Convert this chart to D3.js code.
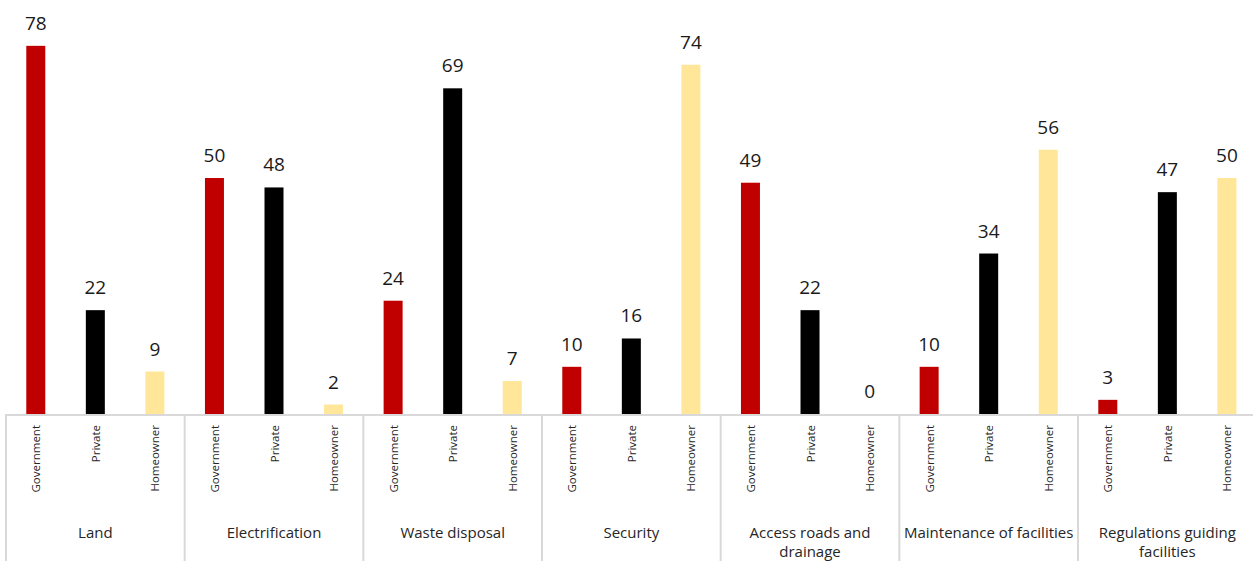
<!DOCTYPE html>
<html><head><meta charset="utf-8">
<script src="https://cdn.jsdelivr.net/npm/d3@7"></script>
<style>body{margin:0;background:#fff}svg{display:block}text{font-family:"Open Sans",sans-serif}</style>
</head><body><svg id="c" width="1253" height="561"></svg>
<script>
const groups = ["Land","Electrification","Waste disposal","Security","Access roads and drainage","Maintenance of facilities","Regulations guiding facilities"];
const groupLines = [["Land"],["Electrification"],["Waste disposal"],["Security"],["Access roads and","drainage"],["Maintenance of facilities"],["Regulations guiding","facilities"]];
const series = ["Government","Private","Homeowner"];
const government = [78,50,24,10,49,10,3];
const privateV = [22,48,69,16,22,34,47];
const homeowner = [9,2,7,74,0,56,50];
const colors = ["#c00000","#000000","#ffe699"];

const svg = d3.select("#c");
const left = 6, groupW = 178.67, baseY = 414;
const right = left + groupW*groups.length;
const x0 = d3.scaleBand().domain(groups).range([left,right]).padding(0);
const x1 = d3.scaleBand().domain(series).range([0,x0.bandwidth()]).padding(0);
const y = d3.scaleLinear().domain([0,78]).range([baseY,baseY-4.72*78]);
const barW = 19;
const vals = [government, privateV, homeowner];

groups.forEach((g,gi)=>{
  const gx = x0(g);
  series.forEach((s,si)=>{
    const v = vals[si][gi];
    const cx = gx + x1(s) + x1.bandwidth()/2;
    svg.append("rect").attr("x",cx-barW/2).attr("y",y(v)).attr("width",barW).attr("height",baseY-y(v)).attr("fill",colors[si]);
    svg.append("text").attr("x",cx).attr("y",y(v)-16).attr("text-anchor","middle").attr("font-size",19).attr("fill","#1a1a1a").text(v);
    svg.append("text").attr("transform",`translate(${cx+4.5},${425}) rotate(-90)`).attr("text-anchor","end").attr("font-size",11.5).attr("fill","#262626").text(s);
  });
  const lines = groupLines[gi];
  lines.forEach((ln,li)=>{
    svg.append("text").attr("x",gx+x0.bandwidth()/2).attr("y",538+li*19).attr("text-anchor","middle").attr("font-size",15).attr("fill","#262626").text(ln);
  });
});
// separators
groups.map(g=>x0(g)).forEach(b=>{
  svg.append("line").attr("x1",b).attr("x2",b).attr("y1",baseY).attr("y2",561).attr("stroke","#d9d9d9").attr("stroke-width",2);
});
svg.append("line").attr("x1",left-1).attr("x2",1253).attr("y1",baseY+1).attr("y2",baseY+1).attr("stroke","#d9d9d9").attr("stroke-width",2);
</script></body></html>
